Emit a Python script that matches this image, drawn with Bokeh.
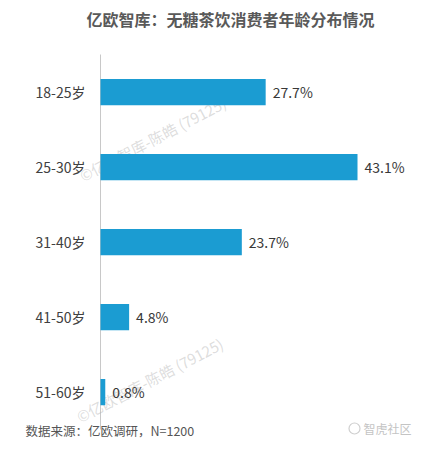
from bokeh.plotting import figure
from bokeh.models import ColumnDataSource, Range1d
from bokeh.core.properties import value
from bokeh.embed import file_html
from bokeh.resources import INLINE

categories = ["18-25岁", "25-30岁", "31-40岁", "41-50岁", "51-60岁"]
values = [27.7, 43.1, 23.7, 4.8, 0.8]
labels = ["27.7%", "43.1%", "23.7%", "4.8%", "0.8%"]
title_text = "亿欧智库：无糖茶饮消费者年龄分布情况"
source_text = "数据来源：亿欧调研，N=1200"
watermark = "©亿欧智库-陈皓 (79125)"
logo_text = "智虎社区"

FONT = value("Noto Sans CJK SC")
W, H = 413, 439
PX_PER_PCT = 5.963      # horizontal scale: pixels per percent
LEFT = 100              # pixel position of 0 %
ROW = 75                # pixels per category row
TOP_ROW = 91.5          # pixel centre of first row

idx = list(range(len(categories)))
src = ColumnDataSource(dict(cat=categories, idx=idx, val=values, lab=labels))

p = figure(width=W, height=H, output_backend="svg", toolbar_location=None,
           x_range=Range1d(-LEFT / PX_PER_PCT, (W - LEFT) / PX_PER_PCT),
           y_range=Range1d((H - TOP_ROW) / ROW, -TOP_ROW / ROW),
           min_border=0)
p.outline_line_color = None
p.background_fill_color = "white"
p.border_fill_color = "white"
p.grid.visible = False
p.axis.visible = False


def dx(px):
    return (px - LEFT) / PX_PER_PCT


def dy(py):
    return (py - TOP_ROW) / ROW


# axis line
p.segment(x0=[0], y0=[-0.5], x1=[0], y1=[len(categories) - 0.5],
          line_color="#c8c8c8", line_width=1)

# watermarks (behind bars)
p.text(x=[dx(80), dx(77)], y=[dy(176), dy(417)], text=[watermark, watermark],
       angle=0.48, text_font=FONT, text_font_size="15px",
       text_color="#b4b4b4", text_alpha=0.45, text_baseline="alphabetic")

# bars
p.hbar(y="idx", right="val", left=0, height=0.35, source=src,
       fill_color="#1b9cd2", line_color=None)

# value labels
p.text(x="val", y="idx", text="lab", source=src, x_offset=7,
       text_baseline="middle", text_align="left", text_font=FONT,
       text_font_size="14px", text_color="#383838")

# category labels
p.text(x=0, y="idx", text="cat", source=src, x_offset=-15,
       text_baseline="middle", text_align="right", text_font=FONT,
       text_font_size="14px", text_color="#404040")

# title
p.text(x=[dx(230)], y=[dy(18)], text=[title_text], text_align="center",
       text_baseline="middle", text_font=FONT, text_font_size="16px",
       text_font_style="bold", text_color="#595959")

# source note
p.text(x=[dx(25)], y=[dy(430)], text=[source_text], text_align="left",
       text_baseline="middle", text_font=FONT, text_font_size="12.5px",
       text_color="#555555")

# logo
p.scatter(x=[dx(354)], y=[dy(428)], marker="circle", size=11,
          fill_color=None, line_color="#cfcfcf", line_width=1.2)
p.text(x=[dx(363)], y=[dy(428)], text=[logo_text], text_align="left",
       text_baseline="middle", text_font=FONT, text_font_size="12px",
       text_color="#c4c4c4")

open("out.html", "w").write(file_html(p, INLINE))
